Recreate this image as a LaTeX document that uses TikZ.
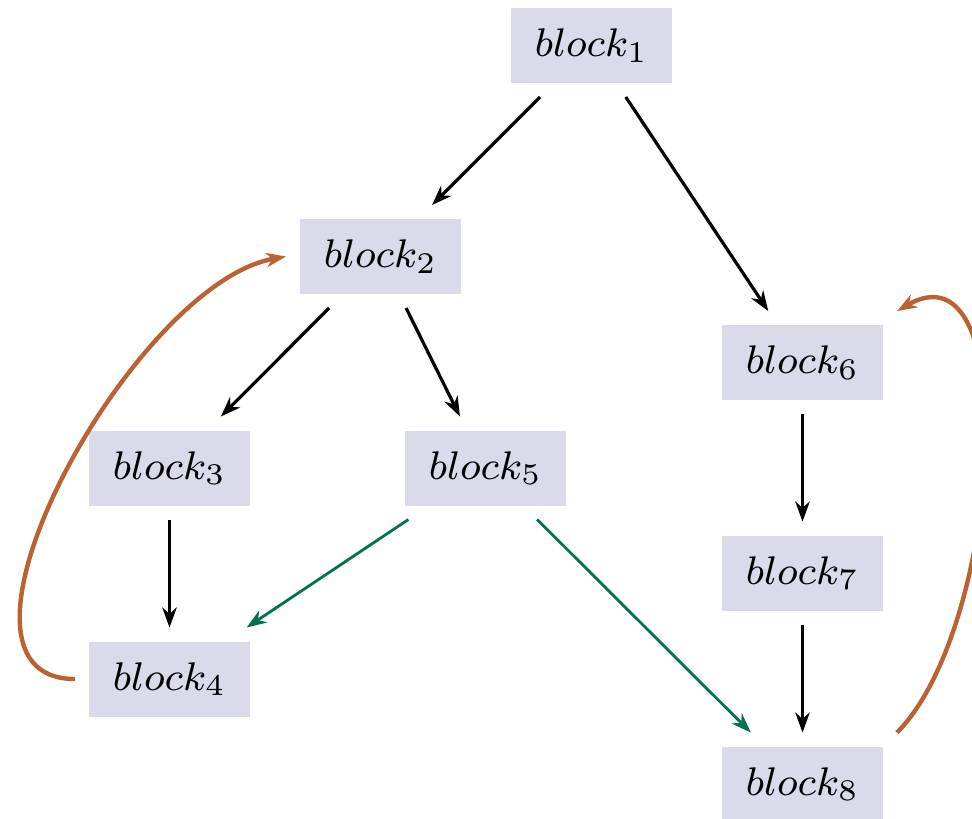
\documentclass[tikz,border=0pt]{standalone}
\usetikzlibrary{arrows.meta}
\definecolor{boxfill}{RGB}{218,218,235}
\definecolor{loopc}{RGB}{187,98,50}
\definecolor{greenc}{RGB}{0,114,80}
\newcommand{\blabel}[1]{\scalebox{1.25}{\fontsize{8}{9}\selectfont $block_{#1}$}}
\begin{document}
\begin{tikzpicture}[x=0.25pt,y=-0.25pt,
  blk/.style={fill=boxfill, draw=none, minimum width=40.25pt, minimum height=18.75pt, inner sep=0pt, outer sep=3.5pt},
  tip/.style={-{Stealth[length=5pt,width=3.6pt,inset=1.6pt]}},
  blackarrow/.style={tip, thick, black},
  greenarrow/.style={tip, line width=0.7pt, greenc},
  looparrow/.style={tip, line width=1.1pt, loopc}]
\useasboundingbox (0,0) rectangle (972,818);
\node[blk] (b1) at (591.5,45.5) {\blabel{1}};
\node[blk] (b2) at (380.5,256.5) {\blabel{2}};
\node[blk] (b3) at (169.5,468) {\blabel{3}};
\node[blk] (b4) at (169.5,679) {\blabel{4}};
\node[blk] (b5) at (485.5,468) {\blabel{5}};
\node[blk] (b6) at (802.5,362.5) {\blabel{6}};
\node[blk] (b7) at (802.5,573) {\blabel{7}};
\node[blk] (b8) at (802.5,784) {\blabel{8}};
\draw[blackarrow] (b1) -- (b2);
\draw[blackarrow] (b1) -- (b6);
\draw[blackarrow] (b2) -- (b3);
\draw[blackarrow] (b2) -- (b5);
\draw[blackarrow] (b3) -- (b4);
\draw[blackarrow] (b6) -- (b7);
\draw[blackarrow] (b7) -- (b8);
\draw[greenarrow] (b5) -- (b4);
\draw[greenarrow] (b5) -- (b8);
\draw[looparrow] (b4.west) to[out=180,in=190,looseness=0.85] (b2.west);
\draw[looparrow] (b8.north east) to[out=45,in=30,looseness=0.9] (b6.north east);
\end{tikzpicture}
\end{document}
